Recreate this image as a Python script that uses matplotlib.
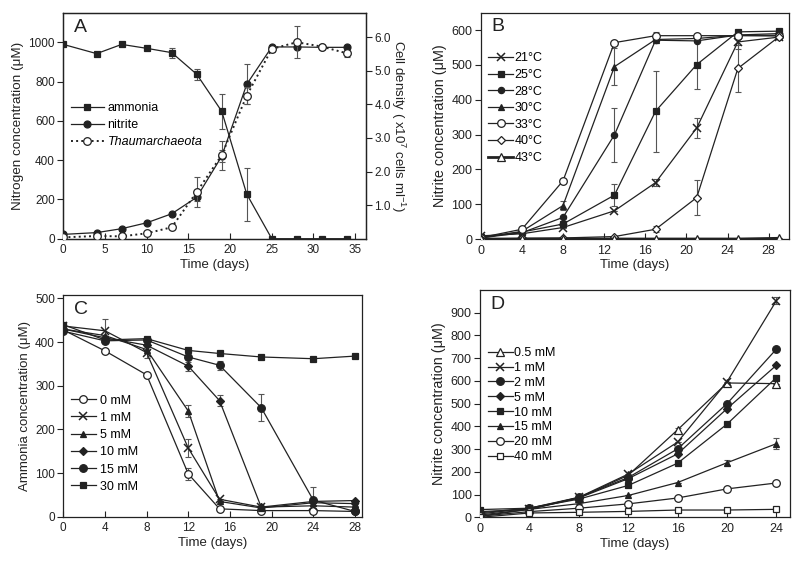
import matplotlib
matplotlib.use('Agg')
import matplotlib.pyplot as plt

plt.rcParams['font.family'] = ['Liberation Sans', 'DejaVu Sans']
plt.rcParams['mathtext.fontset'] = 'custom'
plt.rcParams['mathtext.rm'] = 'Liberation Sans'
plt.rcParams['mathtext.it'] = 'Liberation Sans:italic'

INK = '#222222'
ERR = '#555555'

# ---------------- Panel A ----------------
a_days = [0, 4, 7, 10, 13, 16, 19, 22, 25, 28, 31, 34]
a_ammonia = [990, 943, 990, 970, 948, 838, 649, 227, 0, 0, 0, 0]
a_ammonia_err = [0, 0, 0, 0, 25, 28, 89, 135, 0, 0, 0, 0]
a_nitrite = [22, 31, 51, 81, 127, 211, 420, 787, 977, 977, 975, 975]
a_nitrite_err = [0, 0, 0, 0, 0, 20, 30, 102, 0, 0, 0, 0]
a_thaum = [0.04, 0.08, 0.07, 0.16, 0.34, 1.39, 2.49, 4.26, 5.65, 5.85, 5.72, 5.52]
a_thaum_err = [0, 0, 0, 0, 0, 0.45, 0.43, 0.25, 0.1, 0.47, 0, 0.1]

# ---------------- Panel B ----------------
b_days = [0, 4, 8, 13, 17, 21, 25, 29]
b_labels = ['21°C', '25°C', '28°C', '30°C', '33°C', '40°C', '43°C']
b_21 = [9, 15, 33, 81, 162, 319, 566, 580]
b_21_err = [0, 0, 0, 0, 10, 29, 20, 0]
b_25 = [5, 20, 43, 126, 367, 501, 595, 597]
b_25_err = [0, 0, 0, 31, 116, 71, 0, 0]
b_28 = [3, 18, 62, 299, 571, 569, 586, 590]
b_28_err = [0, 0, 0, 78, 0, 0, 0, 0]
b_30 = [3, 22, 96, 495, 573, 576, 585, 585]
b_30_err = [0, 0, 14, 54, 0, 0, 0, 0]
b_33 = [4, 28, 167, 564, 584, 584, 584, 583]
b_33_err = [0, 0, 0, 0, 11, 0, 0, 0]
b_40 = [0, 2, 3, 7, 28, 119, 490, 581]
b_40_err = [0, 0, 0, 0, 8, 50, 67, 0]
b_43 = [0, 0, 0, 0, 0, 0, 0, 2]
b_43_err = [0, 0, 0, 0, 0, 0, 0, 0]

# ---------------- Panel C ----------------
c_days = [0, 4, 8, 12, 15, 19, 24, 28]
c_labels = ['0 mM', '1 mM', '5 mM', '10 mM', '15 mM', '30 mM']
c_0 = [428, 380, 325, 98, 18, 14, 14, 12]
c_0_err = [0, 0, 0, 13, 0, 0, 0, 0]
c_1 = [437, 426, 376, 157, 40, 22, 25, 22]
c_1_err = [0, 26, 12, 21, 0, 0, 0, 0]
c_5 = [430, 415, 383, 242, 35, 20, 32, 30]
c_5_err = [0, 0, 0, 13, 0, 0, 0, 0]
c_10 = [430, 410, 393, 345, 266, 22, 35, 37]
c_10_err = [0, 0, 0, 10, 13, 0, 0, 0]
c_15 = [425, 403, 405, 366, 347, 250, 38, 12]
c_15_err = [0, 0, 0, 0, 10, 31, 30, 0]
c_30 = [440, 405, 408, 381, 374, 366, 362, 368]
c_30_err = [0, 0, 0, 0, 5, 0, 0, 5]

# ---------------- Panel D ----------------
d_days = [0, 4, 8, 12, 16, 20, 24]
d_labels = ['0.5 mM', '1 mM', '2 mM', '5 mM', '10 mM', '15 mM', '20 mM', '40 mM']
d_05 = [5, 35, 85, 185, 385, 591, 588]
d_05_err = [0, 0, 0, 0, 10, 0, 0]
d_1 = [10, 35, 88, 190, 331, 596, 953]
d_1_err = [0, 0, 0, 0, 0, 0, 15]
d_2 = [15, 40, 88, 175, 301, 500, 740]
d_2_err = [0, 0, 0, 0, 0, 0, 0]
d_5 = [20, 40, 85, 170, 279, 478, 669]
d_5_err = [0, 0, 0, 0, 0, 0, 0]
d_10 = [34, 40, 80, 140, 238, 410, 615]
d_10_err = [0, 0, 0, 0, 0, 0, 0]
d_15 = [25, 35, 60, 96, 153, 240, 324]
d_15_err = [0, 0, 0, 0, 0, 12, 25]
d_20 = [5, 25, 40, 59, 85, 125, 151]
d_20_err = [0, 0, 0, 0, 0, 0, 0]
d_40 = [0, 19, 22, 26, 32, 32, 35]
d_40_err = [0, 0, 0, 0, 0, 0, 0]

W, H = 800, 565
fig = plt.figure(figsize=(8.0, 5.65), dpi=100)


def rect(l, r, t, b):
    return [l / W, (H - b) / H, (r - l) / W, (b - t) / H]


LAB_FS = 9.5


def style(ax, letter, tick_fs=8.5):
    for s in ax.spines.values():
        s.set_color(INK)
        s.set_linewidth(0.9)
    ax.tick_params(axis='x', direction='in', length=4, width=0.8, colors=INK,
                   labelsize=tick_fs, pad=4)
    ax.tick_params(axis='y', direction='out', length=4, width=0.8, colors=INK,
                   labelsize=tick_fs, pad=2)
    ax.text(0.035, 0.975, letter, transform=ax.transAxes, ha='left', va='top',
            fontsize=14, color=INK)
    ax.set_xlabel('Time (days)', fontsize=LAB_FS, color=INK, labelpad=2)


def series(ax, x, y, err, marker, filled=True, ms=5, lw=0.9, ls='-', label=None, mew=0.9, z=3):
    ax.errorbar(x, y, yerr=err, fmt='none', ecolor=ERR, elinewidth=0.8,
                capsize=2.5, capthick=0.8, zorder=z - 1)
    ax.plot(x, y, ls, color=INK, lw=lw, marker=marker, ms=ms,
            mfc=INK if filled else 'white', mec=INK, mew=mew, label=label, zorder=z)


LEG = dict(frameon=False, fontsize=9, borderpad=0, borderaxespad=0, loc='upper left')

# ---- A ----
axA = fig.add_axes(rect(63.3, 366, 13, 238.7))
axA2 = axA.twinx()
series(axA, a_days, a_ammonia, a_ammonia_err, 's', True, ms=4.3, label='ammonia')
series(axA, a_days, a_nitrite, a_nitrite_err, 'o', True, ms=5, label='nitrite')
series(axA2, a_days, a_thaum, a_thaum_err, 'o', False, ms=5.5, ls=':', lw=1.4,
       label='Thaumarchaeota')
axA.set_xlim(0, 36.3)
axA.set_ylim(0, 1150)
axA2.set_ylim(0, 6.72)
axA.set_xticks([0, 5, 10, 15, 20, 25, 30, 35])
axA.set_yticks([0, 200, 400, 600, 800, 1000])
axA2.set_yticks([1, 2, 3, 4, 5, 6])
axA2.set_yticklabels([f'{v:.1f}' for v in [1, 2, 3, 4, 5, 6]])
style(axA, 'A')
for s in axA2.spines.values():
    s.set_color(INK)
    s.set_linewidth(0.9)
axA2.tick_params(axis='y', direction='out', length=4, width=0.8, colors=INK,
                 labelsize=8.5, pad=2)
axA.set_ylabel('Nitrogen concentration (μM)', fontsize=9.7, color=INK, labelpad=3)
axA2.set_ylabel('Cell density ( x10$^{7}$ cells ml$^{-1}$)', fontsize=LAB_FS, color=INK,
                rotation=270, labelpad=12)
h1, l1 = axA.get_legend_handles_labels()
h2, l2 = axA2.get_legend_handles_labels()
legA = axA.legend(h1 + h2, l1 + l2, bbox_to_anchor=(0.026, 0.605),
                  handlelength=2.6, handletextpad=0.3, labelspacing=0.4, **LEG)
legA.get_texts()[2].set_style('italic')

# ---- B ----
axB = fig.add_axes(rect(480.7, 789.3, 12.7, 239))
b_vals = [b_21, b_25, b_28, b_30, b_33, b_40, b_43]
b_errs = [b_21_err, b_25_err, b_28_err, b_30_err, b_33_err, b_40_err, b_43_err]
b_mk = [('x', True, 5.5), ('s', True, 4.3), ('o', True, 4.5), ('^', True, 5),
        ('o', False, 5.5), ('D', False, 4), ('^', False, 5.5)]
for i, (v, e, (m, f, ms)) in enumerate(zip(b_vals, b_errs, b_mk)):
    lw = 2.0 if b_labels[i] == '43°C' else 0.9
    series(axB, b_days, v, e, m, f, ms=ms, lw=lw, label=b_labels[i],
           mew=1.1 if m == 'x' else 0.9)
axB.set_xlim(0, 30)
axB.set_ylim(0, 650)
axB.set_xticks(range(0, 29, 4))
axB.set_yticks(range(0, 601, 100))
style(axB, 'B', tick_fs=9)
axB.set_ylabel('Nitrite concentration (μM)', fontsize=10.4, color=INK, labelpad=3)
axB.legend(bbox_to_anchor=(0.025, 0.825), handlelength=2.0, handletextpad=0.1,
           labelspacing=0.37, **LEG)

# ---- C ----
axC = fig.add_axes(rect(63.3, 361.7, 295, 516.7))
c_vals = [c_0, c_1, c_5, c_10, c_15, c_30]
c_errs = [c_0_err, c_1_err, c_5_err, c_10_err, c_15_err, c_30_err]
c_mk = [('o', False, 5.5), ('x', True, 5.5), ('^', True, 5), ('D', True, 3.6),
        ('o', True, 5.5), ('s', True, 4.3)]
for i, (v, e, (m, f, ms)) in enumerate(zip(c_vals, c_errs, c_mk)):
    series(axC, c_days, v, e, m, f, ms=ms, label=c_labels[i],
           mew=1.1 if m == 'x' else 0.9)
axC.set_xlim(0, 28.65)
axC.set_ylim(0, 508)
axC.set_xticks(range(0, 29, 4))
axC.set_yticks(range(0, 501, 100))
style(axC, 'C')
axC.set_ylabel('Ammonia concentration (μM)', fontsize=LAB_FS, color=INK, labelpad=3)
axC.legend(bbox_to_anchor=(0.025, 0.551), handlelength=2.0, handletextpad=0.3,
           labelspacing=0.42, **LEG)

# ---- D ----
axD = fig.add_axes(rect(480, 790, 290, 517.3))
d_vals = [d_05, d_1, d_2, d_5, d_10, d_15, d_20, d_40]
d_errs = [d_05_err, d_1_err, d_2_err, d_5_err, d_10_err, d_15_err, d_20_err, d_40_err]
d_mk = [('^', False, 5.5), ('x', True, 5.5), ('o', True, 5.5), ('D', True, 3.6),
        ('s', True, 4.3), ('^', True, 5), ('o', False, 5.5), ('s', False, 5)]
for i, (v, e, (m, f, ms)) in enumerate(zip(d_vals, d_errs, d_mk)):
    series(axD, d_days, v, e, m, f, ms=ms, label=d_labels[i],
           mew=1.1 if m == 'x' else 0.9)
axD.set_xlim(0, 25.1)
axD.set_ylim(0, 1000)
axD.set_xticks(range(0, 25, 4))
axD.set_yticks(range(0, 901, 100))
style(axD, 'D', tick_fs=9)
axD.set_ylabel('Nitrite concentration (μM)', fontsize=10.4, color=INK, labelpad=3)
axD.legend(bbox_to_anchor=(0.025, 0.749), handlelength=2.0, handletextpad=0.1,
           labelspacing=0.23, **LEG)

fig.savefig('out.png', dpi=100)
